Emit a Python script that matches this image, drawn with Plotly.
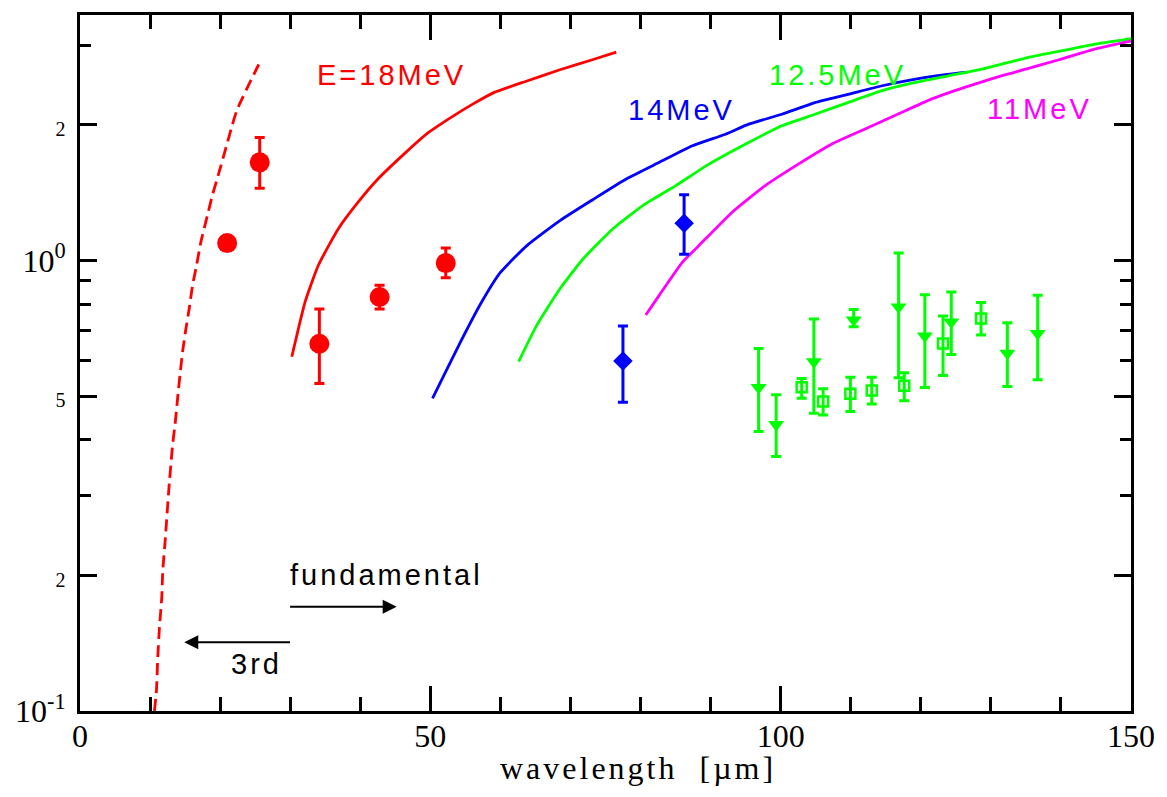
import plotly.graph_objects as go

# ---- calculated gain curves (wavelength in um, gain) ----
third18_x = [10.63, 10.91, 11.10, 11.34, 11.67, 11.81, 12.15, 12.66, 13.22, 13.61, 13.93, 14.27,
             14.64, 15.12, 15.59, 16.06, 16.54, 17.25, 18.19, 18.89, 19.84, 20.84, 21.7, 22.44,
             24.34, 25.51]
third18_y = [0.100, 0.111, 0.1315, 0.1534, 0.1787, 0.2047, 0.238, 0.3077, 0.390, 0.439, 0.494, 0.557,
             0.627, 0.706, 0.782, 0.880, 0.958, 1.098, 1.259, 1.394, 1.567, 1.78, 1.988, 2.163,
             2.50, 2.72]

fund18_x = [30.23, 32.13, 34.02, 36.85, 39.69, 42.52, 46.31, 49.61, 52.91, 56.23, 59.06, 63.78,
            68.50, 73.24, 76.54]
fund18_y = [0.611, 0.809, 0.975, 1.174, 1.346, 1.515, 1.725, 1.915, 2.074, 2.230, 2.356, 2.50,
            2.648, 2.790, 2.897]

fund14_x = [50.31, 51.97, 54.33, 57.16, 60.0, 63.78, 68.50, 73.24, 77.96, 82.68, 87.41, 92.13,
            95.43, 100.17, 104.89, 109.61, 114.34, 119.06, 123.78, 126.62]
fund14_y = [0.494, 0.557, 0.660, 0.800, 0.940, 1.078, 1.225, 1.365, 1.515, 1.650, 1.796, 1.905,
            2.005, 2.109, 2.239, 2.335, 2.437, 2.520, 2.585, 2.617]

fund125_x = [62.61, 65.20, 68.50, 71.82, 76.07, 80.32, 85.04, 89.76, 95.43, 100.17, 104.89, 109.61,
             114.34, 119.06, 123.78, 128.51, 135.12, 139.86, 144.57, 150.0]
fund125_y = [0.596, 0.718, 0.865, 1.008, 1.175, 1.323, 1.465, 1.635, 1.826, 1.989, 2.109, 2.239,
             2.376, 2.478, 2.564, 2.652, 2.815, 2.912, 3.012, 3.105]

fund11_x = [80.75, 82.68, 85.99, 88.35, 93.08, 97.80, 102.52, 107.25, 111.97, 116.69, 121.42, 126.15,
            130.87, 135.12, 139.85, 144.57, 150.0]
fund11_y = [0.756, 0.837, 0.991, 1.079, 1.279, 1.465, 1.635, 1.810, 1.954, 2.109, 2.276, 2.416,
            2.55, 2.66, 2.790, 2.936, 3.064]

# ---- measured points: value with upper / lower bounds ----
meas18_x = [21.0, 25.65, 34.16, 42.76, 52.20]
meas18_y = [1.092, 1.650, 0.653, 0.829, 0.986]
meas18_hi = [1.092, 1.874, 0.780, 0.880, 1.065]
meas18_lo = [1.092, 1.445, 0.533, 0.780, 0.915]

meas14_x = [77.49, 86.22]
meas14_y = [0.598, 1.209]
meas14_hi = [0.715, 1.399]
meas14_lo = [0.484, 1.031]

meas125a_x = [96.85, 99.36, 104.74, 110.42, 116.83, 120.58, 124.35, 132.35, 136.68]
meas125a_y = [0.522, 0.432, 0.596, 0.737, 0.788, 0.679, 0.730, 0.622, 0.688]
meas125a_hi = [0.637, 0.503, 0.741, 0.778, 1.038, 0.839, 0.851, 0.727, 0.837]
meas125a_lo = [0.417, 0.367, 0.458, 0.712, 0.549, 0.522, 0.618, 0.525, 0.543]

meas125b_x = [103.0, 106.06, 109.95, 113.0, 117.64, 123.17, 128.6]
meas125b_y = [0.523, 0.486, 0.506, 0.514, 0.527, 0.654, 0.743]
meas125b_hi = [0.547, 0.519, 0.550, 0.550, 0.563, 0.752, 0.806]
meas125b_lo = [0.494, 0.454, 0.462, 0.480, 0.488, 0.555, 0.683]

# ---- axis ticks ----
x_major = [0, 50, 100, 150]
x_major_text = ["0", "50", "100", "150"]
y_major = [0.1, 0.2, 0.5, 1, 2]
y_major_text = ["10<sup>-1</sup>", "<span style='font-size:20px'>2</span>",
                "<span style='font-size:20px'>5</span>", "10<sup>0</sup>",
                "<span style='font-size:20px'>2</span>"]
y_minor = [0.3, 0.4, 0.6, 0.7, 0.8, 0.9, 3]
y_decades = [0.1, 1]

RED, BLUE, GREEN, MAGENTA = "#ff0000", "#0000ff", "#00ff00", "#ff00ff"
SANS = "Liberation Sans"
SERIF = "Liberation Serif"

fig = go.Figure()

curve_line = dict(width=2.8, shape="spline", smoothing=0.5)
fig.add_trace(go.Scatter(x=third18_x, y=third18_y, mode="lines",
                         line=dict(curve_line, color=RED, dash="12px,6px")))
fig.add_trace(go.Scatter(x=fund18_x, y=fund18_y, mode="lines", line=dict(curve_line, color=RED)))
fig.add_trace(go.Scatter(x=fund14_x, y=fund14_y, mode="lines", line=dict(curve_line, color=BLUE)))
fig.add_trace(go.Scatter(x=fund125_x, y=fund125_y, mode="lines", line=dict(curve_line, color=GREEN)))
fig.add_trace(go.Scatter(x=fund11_x, y=fund11_y, mode="lines", line=dict(curve_line, color=MAGENTA)))


def err(ys, his, los, color):
    return dict(type="data", symmetric=False,
                array=[h - y for y, h in zip(ys, his)],
                arrayminus=[y - l for y, l in zip(ys, los)],
                color=color, thickness=3, width=5)


fig.add_trace(go.Scatter(x=meas18_x, y=meas18_y, mode="markers",
                         marker=dict(symbol="circle", size=20, color=RED),
                         error_y=err(meas18_y, meas18_hi, meas18_lo, RED)))
fig.add_trace(go.Scatter(x=meas14_x, y=meas14_y, mode="markers",
                         marker=dict(symbol="diamond", size=15, color=BLUE),
                         error_y=err(meas14_y, meas14_hi, meas14_lo, BLUE)))
fig.add_trace(go.Scatter(x=meas125a_x, y=meas125a_y, mode="markers",
                         marker=dict(symbol="triangle-down", size=14, color=GREEN),
                         error_y=err(meas125a_y, meas125a_hi, meas125a_lo, GREEN)))
fig.add_trace(go.Scatter(x=meas125b_x, y=meas125b_y, mode="markers",
                         marker=dict(symbol="square-open", size=10, color=GREEN,
                                     line=dict(width=2.5, color=GREEN)),
                         error_y=err(meas125b_y, meas125b_hi, meas125b_lo, GREEN)))


def spaced(txt):
    return "<span style='letter-spacing:3px'>" + txt + "</span>"


labels = [
    (44.5, 0.4107, "E=18MeV", RED),
    (85.8, 0.3344, "14MeV", BLUE),
    (108.1, 0.4107, "12.5MeV", GREEN),
    (137.0, 0.3351, "11MeV", MAGENTA),
    (43.8, -0.6978, "fundamental", "black"),
    (25.2, -0.8946, "3rd", "black"),
]
for lx, ly, txt, col in labels:
    fig.add_annotation(x=lx, y=ly, xref="x", yref="y", text=spaced(txt), showarrow=False,
                       font=dict(family=SANS, size=29, color=col),
                       xanchor="center", yanchor="middle")

# harmonic direction arrows
fig.add_annotation(x=45.2, y=-0.7686, ax=29.77, ay=-0.7686, xref="x", yref="y",
                   axref="x", ayref="y", text="", showarrow=True,
                   arrowhead=2, arrowsize=1.4, arrowwidth=2, arrowcolor="black")
fig.add_annotation(x=14.88, y=-0.8475, ax=30.19, ay=-0.8475, xref="x", yref="y",
                   axref="x", ayref="y", text="", showarrow=True,
                   arrowhead=2, arrowsize=1.4, arrowwidth=2, arrowcolor="black")

# x-axis title
fig.add_annotation(x=0.531, y=-0.082, xref="paper", yref="paper",
                   text="<span style='letter-spacing:3px'>wavelength  [µm]</span>",
                   showarrow=False, font=dict(family=SERIF, size=32, color="black"),
                   xanchor="center", yanchor="middle")

fig.update_layout(
    width=1167, height=797,
    margin=dict(l=80, r=29, t=12, b=86),
    paper_bgcolor="white", plot_bgcolor="white",
    showlegend=False,
    font=dict(family=SERIF, size=30, color="black"),
    xaxis=dict(range=[0, 150], tickmode="array", tickvals=x_major, ticktext=x_major_text,
               ticks="inside", ticklen=25, tickwidth=3, tickcolor="black",
               showline=True, linewidth=3, linecolor="black", mirror="ticks",
               showgrid=False, zeroline=False, ticklabelstandoff=-5,
               tickfont=dict(family=SERIF, size=32, color="black"),
               minor=dict(dtick=10, tick0=0, ticks="inside", ticklen=14, tickwidth=3,
                          tickcolor="black", showgrid=False)),
    yaxis=dict(type="log", range=[-1, 0.5444], tickmode="array", tickvals=y_major,
               ticktext=y_major_text,
               ticks="inside", ticklen=17, tickwidth=3, tickcolor="black",
               showline=True, linewidth=3, linecolor="black", mirror="ticks",
               showgrid=False, zeroline=False, ticklabelstandoff=5,
               tickfont=dict(family=SERIF, size=32, color="black"),
               minor=dict(tickmode="array", tickvals=y_minor, ticks="inside", ticklen=11,
                          tickwidth=3, tickcolor="black", showgrid=False)),
    yaxis2=dict(type="log", range=[-1, 0.5444], overlaying="y", side="left",
                tickmode="array", tickvals=y_decades, showticklabels=False,
                ticks="inside", ticklen=27, tickwidth=3, tickcolor="black",
                showline=True, linewidth=3, linecolor="black", mirror="ticks",
                showgrid=False, zeroline=False),
)

fig.write_html("out.html")
